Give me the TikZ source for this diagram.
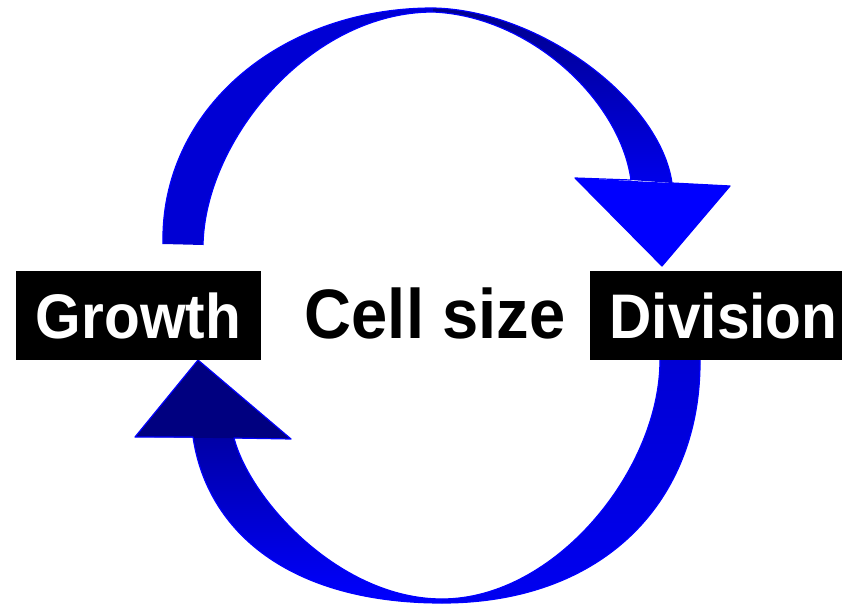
\documentclass[tikz,border=0pt]{standalone}
\usepackage{fontspec}
\setmainfont{Liberation Sans}[FakeStretch=0.93]
\definecolor{azulfrente}{RGB}{0,0,212}
\definecolor{azulfondo}{RGB}{0,0,128}
\definecolor{azulvivo}{RGB}{0,0,255}

\begin{document}
\begin{tikzpicture}[x=1pt, y=-1pt,
    caja/.style={fill=black, text=white, inner sep=0pt, minimum height=89pt,
      font=\fontsize{63}{70}\selectfont\bfseries},
    borde/.style={draw=azulvivo, line width=1.2pt, line join=round}]

    \useasboundingbox (0,0) rectangle (846,604);

    % Flecha superior: cara delantera
    \fill[azulfrente] (163,244) .. controls (160,110) and (280,8) .. (433,8)
      -- (433,12) .. controls (310,12) and (205,140) .. (203,245) -- cycle;
    % Flecha superior: cara trasera y punta
    \shade[top color=azulfondo!90!azulvivo, bottom color=azulvivo!92!black]
      (433,8) .. controls (540,10) and (660,100) .. (672,183)
      -- (631,180) .. controls (620,100) and (530,16) .. (433,12) -- cycle;
    \fill[azulvivo] (575,178) -- (730,186) -- (662,266) -- cycle;
    \draw[borde] (163,244) .. controls (160,110) and (280,8) .. (433,8)
      .. controls (540,10) and (660,100) .. (672,183)
      -- (730,186) -- (662,266) -- (575,178) -- (631,180)
      .. controls (620,100) and (530,16) .. (433,12)
      .. controls (310,12) and (205,140) .. (203,245);

    % Flecha inferior: cara delantera
    \shade[top color=azulfrente, bottom color=azulvivo!94!black]
      (700,360) .. controls (701,500) and (605,603) .. (442,603)
      -- (442,599) .. controls (555,599) and (660,470) .. (660,360) -- cycle;
    % Flecha inferior: cara trasera y punta
    \shade[top color=azulfondo!70!azulvivo, bottom color=azulvivo]
      (442,603) .. controls (290,603) and (207,532) .. (193,437)
      -- (234,438) .. controls (250,500) and (340,599) .. (442,599) -- cycle;
    \fill[azulfondo] (135,437) -- (198,360) -- (291,439) -- cycle;
    \draw[borde] (700,360) .. controls (701,500) and (605,603) .. (442,603)
      .. controls (290,603) and (207,532) .. (193,437)
      -- (135,437) -- (198,360) -- (291,439) -- (234,438)
      .. controls (250,500) and (340,599) .. (442,599)
      .. controls (555,599) and (660,470) .. (660,360);

    % Etiquetas
    \node[caja, minimum width=245pt] (growth) at (138.5,315.5) {Growth};
    \node[caja, minimum width=252pt] (division) at (716,315.5) {\hspace*{15pt}Division};
    \node[font=\fontsize{70}{78}\selectfont\bfseries] (size) at (435,313) {Cell size};

\end{tikzpicture}
\end{document}
